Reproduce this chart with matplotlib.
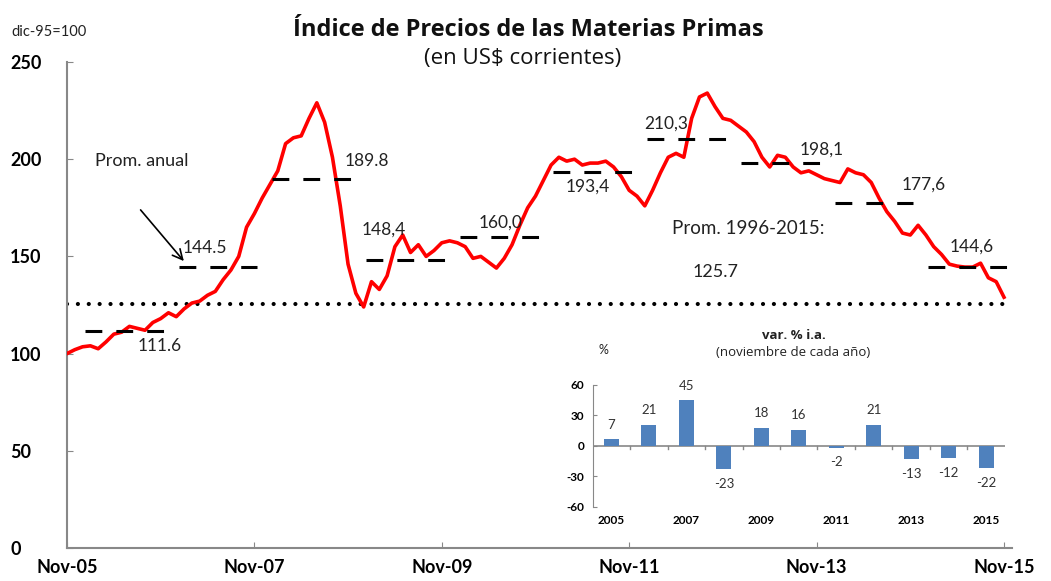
import matplotlib
matplotlib.use("Agg")
import matplotlib.pyplot as plt
import numpy as np

plt.rcParams['font.family'] = ['Lato', 'DejaVu Sans']

# ---------------- data ----------------
month_ticks = ["Nov-05", "Nov-07", "Nov-09", "Nov-11", "Nov-13", "Nov-15"]
index_values = [
    100, 102, 103.5, 104, 102.5, 106, 110, 111, 114, 113, 112, 116,
    118, 121, 119, 123, 126, 127, 130, 132, 138, 143, 150, 165,
    172, 180, 187, 194, 208, 211, 212, 221, 229, 219, 201, 176,
    146, 131, 124, 137, 133, 140, 155, 161, 152, 156, 150, 153,
    157, 158, 157, 155, 149, 150, 147, 144, 149, 156, 166, 175,
    181, 189, 197, 201, 199, 200, 197, 198, 198, 199, 196, 191,
    184, 181, 176, 184, 193, 201, 203, 201, 221, 232, 234, 227,
    221, 220, 217, 214, 209, 201, 196, 202, 201, 196, 193, 194,
    192, 190, 189, 188, 195, 193, 192, 188, 180, 173, 168, 162,
    161, 166, 161, 155, 151, 146, 145, 144.5, 144.5, 146.5, 139, 137,
    129,
]
avg_years = [2006, 2007, 2008, 2009, 2010, 2011, 2012, 2013, 2014, 2015]
annual_avg = [111.6, 144.5, 189.8, 148.4, 160.0, 193.4, 210.3, 198.1, 177.6, 144.6]
annual_labels = ["111.6", "144.5", "189.8", "148,4", "160,0", "193,4",
                 "210,3", "198,1", "177,6", "144,6"]
long_run_avg = 125.7

bar_years = [2005, 2006, 2007, 2008, 2009, 2010, 2011, 2012, 2013, 2014, 2015]
bar_values = [7, 21, 45, -23, 18, 16, -2, 21, -13, -12, -22]

# ---------------- layout ----------------
label_pos = [(11.9, 104), (17.6, 154.5), (38.4, 199), (40.6, 164), (55.5, 167.5),
             (66.7, 186), (76.7, 218.5), (96.7, 205), (109.7, 187), (115.8, 155)]

fig = plt.figure(figsize=(10.51, 5.81), dpi=100)
ax = fig.add_axes([0.0637, 0.0568, 0.899, 0.8365])

months = np.arange(len(index_values))
ax.plot(months, index_values, color='#ff0000', lw=2.6, zorder=3, solid_joinstyle='round')

# long-run average dotted line
ax.plot([0, 120], [long_run_avg, long_run_avg], color='black', lw=3,
        linestyle=(0, (0.01, 2.6)), dash_capstyle='round', zorder=2)

# annual averages (dashes)
for yr, val in zip(avg_years, annual_avg):
    start = (yr - 2006) * 12 + 2.3
    ax.plot([start, start + 10.1], [val, val], color='black', lw=2.2,
            linestyle=(0, (5.5, 4.6)), dash_capstyle='butt', zorder=4)

for (x, y), txt in zip(label_pos, annual_labels):
    ax.text(x, y, txt, fontsize=12.5, color='#222222', ha='center', va='center', zorder=5)

ax.text(9.6, 199, "Prom. anual", fontsize=13, color='#222222', ha='center', va='center')
ax.annotate("", xy=(15.2, 146.5), xytext=(9.2, 175),
            arrowprops=dict(arrowstyle='->', color='black', lw=1.2, mutation_scale=18))
ax.text(87.2, 164.5, "Prom. 1996-2015:", fontsize=13.5, color='#222222', ha='center', va='center')
ax.text(83, 142, "125.7", fontsize=13, color='#222222', ha='center', va='center')

ax.set_xlim(0, 121)
ax.set_ylim(0, 250)
ax.set_xticks([0, 24, 48, 72, 96, 120])
ax.set_xticklabels(month_ticks, fontsize=13, fontweight='bold')
ax.set_yticks([0, 50, 100, 150, 200, 250])
ax.set_yticklabels(["0", "50", "100", "150", "200", "250"], fontsize=13, fontweight='bold')
for lab in ax.get_yticklabels():
    lab.set_horizontalalignment('left')
ax.tick_params(axis='y', direction='in', length=4, color='#888888', pad=41)
ax.tick_params(axis='x', direction='in', length=4, color='#888888', pad=8)
for s in ['top', 'right']:
    ax.spines[s].set_visible(False)
for s in ['left', 'bottom']:
    ax.spines[s].set_color('#888888')
    ax.spines[s].set_linewidth(1.5)

fig.text(0.503, 0.948, "Índice de Precios de las Materias Primas", fontsize=17,
         fontweight='bold', ha='center', va='center', color='#111111',
         family=['Open Sans', 'DejaVu Sans'])
fig.text(0.497, 0.9, "(en US$ corrientes)", fontsize=16, ha='center', va='center',
         color='#111111', family=['Open Sans', 'DejaVu Sans'])
fig.text(0.011, 0.945, "dic-95=100", fontsize=10.5, ha='left', va='center', color='#222222')

# ---------------- inset ----------------
ins = fig.add_axes([0.564, 0.1274, 0.392, 0.21])
xpos = np.arange(len(bar_years))
ins.bar(xpos, bar_values, width=0.4, color='#4f81bd', zorder=3)
for x, v in zip(xpos, bar_values):
    if v >= 0:
        ins.annotate(str(v), (x, v), xytext=(0, 6), textcoords='offset points',
                     ha='center', va='bottom', fontsize=9.5, color='#333333')
    else:
        ins.annotate(str(v), (x, v), xytext=(0, -6), textcoords='offset points',
                     ha='center', va='top', fontsize=9.5, color='#333333')
ins.set_xlim(-0.5, len(bar_years) - 0.5)
ins.set_ylim(-60, 60)
ins.set_yticks([-60, -30, 0, 30, 60])
ins.set_yticklabels(["-60", "-30", "0", "30", "60"], fontsize=8.5, fontweight='bold')
ins.tick_params(axis='y', direction='in', length=3, color='#888888', pad=6)
ins.set_xticks(xpos[::2])
ins.set_xticklabels([str(y) for y in bar_years[::2]], fontsize=8.5, fontweight='bold')
ins.tick_params(axis='x', length=0, pad=6)
ins.axhline(0, color='#888888', lw=1.2, zorder=2)
for b in np.arange(0.5, len(bar_years) - 0.5, 1):
    ins.plot([b, b], [0, -3], color='#888888', lw=1, zorder=2)
for s in ['top', 'right', 'bottom']:
    ins.spines[s].set_visible(False)
ins.spines['left'].set_color('#888888')
ins.set_facecolor('none')
fig.text(0.755, 0.423, "var. % i.a.", fontsize=9.5, fontweight='bold', ha='center',
         va='center', color='#222222', family=['Open Sans', 'DejaVu Sans'])
fig.text(0.755, 0.393, "(noviembre de cada año)", fontsize=9.5, ha='center', va='center',
         color='#222222', family=['Open Sans', 'DejaVu Sans'])
fig.text(0.574, 0.398, "%", fontsize=9, ha='center', va='center', color='#222222')

fig.savefig("out.png", dpi=100)
